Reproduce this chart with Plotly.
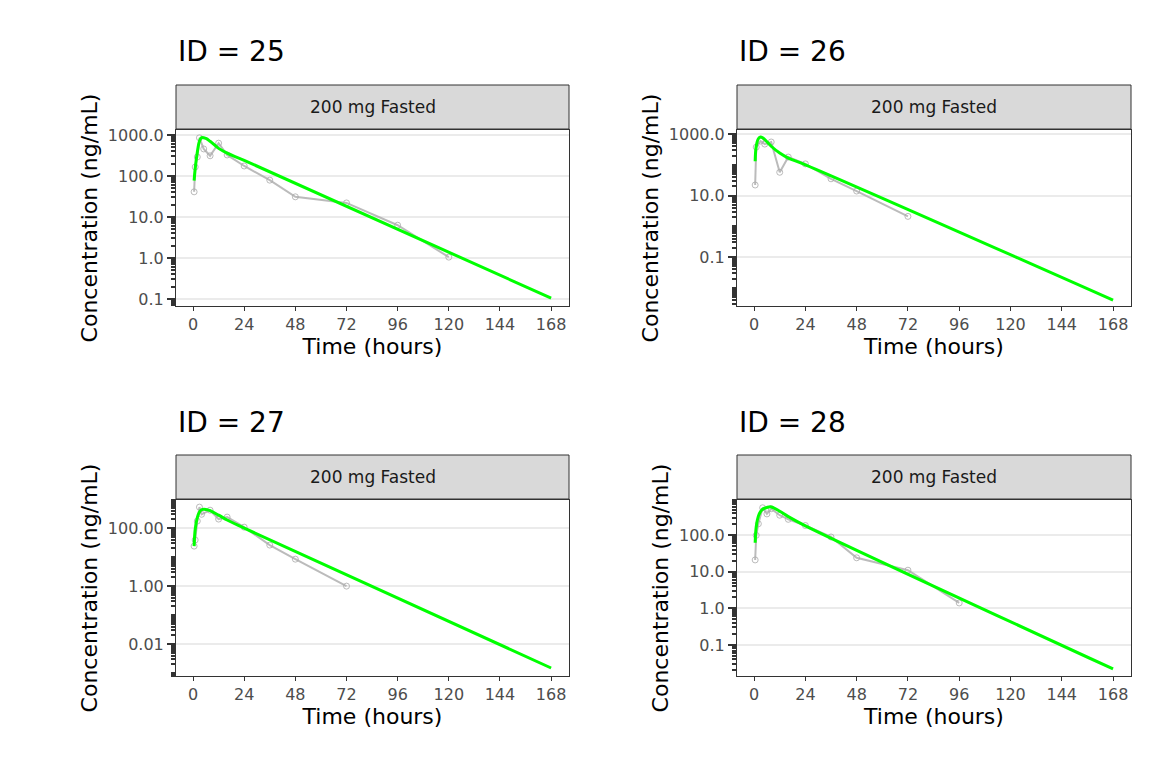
import plotly.graph_objects as go

# observed concentrations
ids = [25, 26, 27, 28]
obs_t = {
    25: [0.5, 1, 2, 3, 5, 8, 12, 16, 24, 36, 48, 72, 96, 120],
    26: [0.5, 1, 3, 5, 8, 12, 16, 24, 36, 48, 72],
    27: [0.5, 1, 2, 3, 4, 8, 12, 16, 24, 36, 48, 72],
    28: [0.5, 1, 2, 4, 6, 8, 12, 16, 24, 36, 48, 72, 96],
}
obs_c = {
    25: [41, 165, 290, 850, 455, 310, 630, 325, 175, 79, 31, 22, 6.3, 1.05],
    26: [22, 375, 590, 470, 550, 57, 178, 107, 35, 14, 2.1],
    27: [24, 39, 175, 530, 300, 415, 205, 240, 108, 26, 8.5, 1.0],
    28: [21, 99, 204, 560, 380, 525, 350, 270, 183, 89, 24, 11, 1.4],
}
# fitted curve
fit_t = [0.5, 1, 2, 3, 4, 6, 8, 12, 16, 24, 168]
fit_c = {
    25: [77, 150, 380, 700, 860, 820, 700, 470, 360, 240, 0.105],
    26: [130, 400, 700, 800, 760, 560, 400, 240, 165, 100, 0.004],
    27: [24, 90, 230, 360, 430, 440, 400, 280, 190, 100, 0.0015],
    28: [62, 170, 330, 440, 510, 570, 590, 450, 320, 180, 0.022],
}
y_ranges = {25: [-1.17, 3.12], 26: [-2.59, 3.13], 27: [-3.10, 2.97], 28: [-1.85, 2.96]}
y_ticks = {
    25: ([0.1, 1, 10, 100, 1000], ["0.1", "1.0", "10.0", "100.0", "1000.0"]),
    26: ([0.1, 10, 1000], ["0.1", "10.0", "1000.0"]),
    27: ([0.01, 1, 100], ["0.01", "1.00", "100.00"]),
    28: ([0.1, 1, 10, 100], ["0.1", "1.0", "10.0", "100.0"]),
}
x_ticks = [0, 24, 48, 72, 96, 120, 144, 168]

W, H = 1152, 768
cols = [(168, 561), (729, 1123)]
rows = [(122, 298), (492, 668)]

fig = go.Figure()
for i, pid in enumerate(ids):
    r, c = divmod(i, 2)
    x0, x1 = cols[c]
    y0, y1 = rows[r]
    n = "" if i == 0 else str(i + 1)
    xa, ya = "x" + n, "y" + n
    fig.add_trace(go.Scatter(
        x=obs_t[pid], y=obs_c[pid], mode="lines+markers", xaxis=xa, yaxis=ya,
        line=dict(color="rgba(170,170,170,0.8)", width=2),
        marker=dict(symbol="circle-open", size=6, color="rgba(170,170,170,0.8)"),
        showlegend=False))
    fig.add_trace(go.Scatter(
        x=fit_t, y=fit_c[pid], mode="lines", xaxis=xa, yaxis=ya,
        line=dict(color="#00ff00", width=3, shape="spline"), showlegend=False))
    fig.layout["xaxis" + n] = dict(
        domain=[x0 / W, x1 / W], anchor=ya, range=[-8, 176.4], automargin=False,
        tickvals=x_ticks, ticks="outside", ticklen=4, tickcolor="#333",
        showgrid=False, zeroline=False, showline=True, linecolor="#333",
        mirror=True, tickfont=dict(size=16, color="#4d4d4d"),
        title=dict(text="Time (hours)", font=dict(size=22, color="black"), standoff=2))
    tv, tt = y_ticks[pid]
    fig.layout["yaxis" + n] = dict(
        domain=[1 - y1 / H, 1 - y0 / H], anchor=xa, type="log", range=y_ranges[pid],
        automargin=False,
        tickvals=tv, ticktext=tt, ticks="outside", ticklen=8, tickwidth=2,
        tickcolor="#333", showgrid=True, gridcolor="#ebebeb", gridwidth=2,
        zeroline=False, showline=True, linecolor="#333", mirror=True,
        minor=dict(ticks="outside", ticklen=4, tickwidth=2, tickcolor="#333",
                   dtick="D1", showgrid=False),
        tickfont=dict(size=16, color="#4d4d4d"),
        title=dict(text="Concentration (ng/mL)", font=dict(size=22, color="black"), standoff=4))
    # facet strip
    fig.add_shape(type="rect", xref="paper", yref="paper",
                  x0=x0 / W, x1=x1 / W, y0=1 - (y0 - 1) / H, y1=1 - (y0 - 45) / H,
                  fillcolor="#d9d9d9", line=dict(color="#333", width=1))
    fig.add_annotation(text="200 mg Fasted", xref="paper", yref="paper",
                       x=(x0 + x1) / 2 / W, y=1 - (y0 - 23) / H, showarrow=False,
                       xanchor="center", yanchor="middle",
                       font=dict(size=17, color="#1a1a1a"))
    fig.add_annotation(text="ID = %d" % pid, xref="paper", yref="paper",
                       x=x0 / W, y=1 - (y0 - 78) / H, xanchor="left", yanchor="middle",
                       showarrow=False, font=dict(size=28, color="black"))

fig.update_layout(width=W, height=H, margin=dict(l=0, r=0, t=0, b=0),
                  plot_bgcolor="white", paper_bgcolor="white",
                  font=dict(family="DejaVu Sans"))
fig.write_html("out.html")
